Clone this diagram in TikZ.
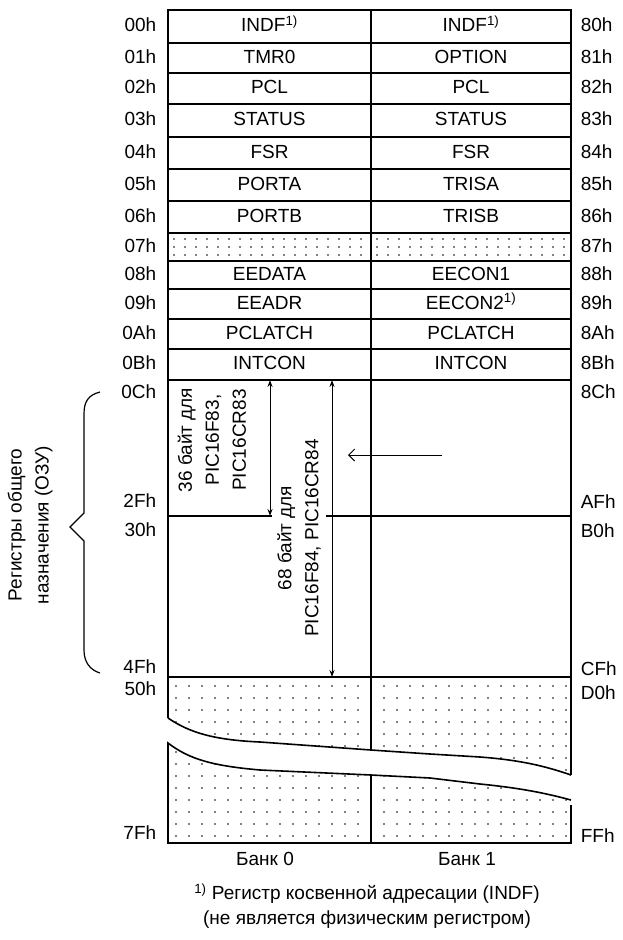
\documentclass[tikz,border=0pt]{standalone}
\usepackage{fontspec}
\setmainfont{Liberation Sans}
\usetikzlibrary{arrows.meta, positioning}

\newcommand{\fnmark}{\textsuperscript{1)}}
\newcommand{\regfont}{\fontsize{19}{27}\selectfont}

\begin{document}
\begin{tikzpicture}[x=1pt, y=-1pt, line width=1.6pt,
  >={Stealth[length=7pt, width=5pt]},
  regname/.style={font=\regfont, inner sep=0pt, text height=14pt, text depth=4pt},
  addr/.style={font=\regfont, inner sep=0pt, text height=14pt, text depth=4pt},
  vlabel/.style={font=\regfont, rotate=90, align=center, inner sep=1pt},
  dot/.style={fill=black}]

\useasboundingbox (0,0) rectangle (623,940);

% =========== Special function registers ===========
\foreach \top/\bot/\la/\ra/\na/\nb [count=\i] in {
  10/43/00h/80h/{INDF\fnmark}/{INDF\fnmark},
  43/73/01h/81h/TMR0/OPTION,
  73/104/02h/82h/PCL/PCL,
  104/137/03h/83h/STATUS/STATUS,
  137/169/04h/84h/FSR/FSR,
  169/201/05h/85h/PORTA/TRISA,
  201/233/06h/86h/PORTB/TRISB,
  233/261/07h/87h/{}/{},
  261/289/08h/88h/EEDATA/EECON1,
  289/319/09h/89h/EEADR/{EECON2\fnmark},
  319/349/0Ah/8Ah/PCLATCH/PCLATCH,
  349/380/0Bh/8Bh/INTCON/INTCON} {
  \draw (168,\top) rectangle (371,\bot);
  \draw (371,\top) rectangle (571,\bot);
  \node[regname] (bankA\i) at (269.5,{(\top+\bot)/2}) {\na};
  \node[regname] (bankB\i) at (471,{(\top+\bot)/2}) {\nb};
  \node[addr, anchor=east] (addrA\i) at (157,{(\top+\bot)/2}) {\la};
  \node[addr, anchor=west] (addrB\i) at (580,{(\top+\bot)/2}) {\ra};
}

% Unimplemented row 07h / 87h
\foreach \x in {174,185,...,366} {
  \foreach \y in {239,247,255} {
    \fill[dot] (\x,\y) circle[radius=0.8pt];
    \fill[dot] ({\x+203},\y) circle[radius=0.8pt];
  }
}

% =========== General purpose registers ===========
\draw (168,380) -- (168,718);
\draw (571,380) -- (571,775);
\draw (371,380) -- (371,750);
\draw (168,516) -- (272,516);
\draw (326,516) -- (571,516);
\draw (168,677) -- (571,677);

% Unimplemented area, upper piece
\draw (168,718) .. controls (190,733) and (215,740) .. (260,742) -- (371,750)
  -- (430,754) -- (480,757) .. controls (520,760) and (545,766) .. (571,775);
\begin{scope}
  \clip (168,677) -- (571,677) -- (571,775) .. controls (545,766) and (520,760) .. (480,757)
    -- (430,754) -- (371,750) -- (260,742) .. controls (215,740) and (190,733) .. (168,718) -- cycle;
  \foreach \x in {176,189,...,570} {
    \foreach \y in {686,698,...,776} {
      \fill[dot] (\x,\y) circle[radius=0.8pt];
    }
  }
\end{scope}

% Unimplemented area, lower piece
\draw (571,805) -- (571,843) -- (168,843) -- (168,743)
  .. controls (190,760) and (215,766) .. (260,770) -- (371,775)
  -- (430,778) -- (480,784) .. controls (520,788) and (545,793) .. (571,800);
\draw (371,775) -- (371,843);
\begin{scope}
  \clip (168,843) -- (168,743) .. controls (190,760) and (215,766) .. (260,770) -- (371,775)
    -- (430,778) -- (480,784) .. controls (520,788) and (545,793) .. (571,800) -- (571,843) -- cycle;
  \foreach \x in {176,189,...,570} {
    \foreach \y in {752,764,...,840} {
      \fill[dot] (\x,\y) circle[radius=0.8pt];
    }
  }
\end{scope}

% Addresses of the general purpose area
\node[addr, anchor=east] (addr0C) at (157,393) {0Ch};
\node[addr, anchor=east] (addr2F) at (157,502) {2Fh};
\node[addr, anchor=east] (addr30) at (157,531) {30h};
\node[addr, anchor=east] (addr4F) at (157,668) {4Fh};
\node[addr, anchor=east] (addr50) at (157,690) {50h};
\node[addr, anchor=east] (addr7F) at (157,834) {7Fh};
\node[addr, anchor=west] (addr8C) at (580,393) {8Ch};
\node[addr, anchor=west] (addrAF) at (580,503) {AFh};
\node[addr, anchor=west] (addrB0) at (580,532) {B0h};
\node[addr, anchor=west] (addrCF) at (580,670) {CFh};
\node[addr, anchor=west] (addrD0) at (580,694) {D0h};
\node[addr, anchor=west] (addrFF) at (580,837) {FFh};

% Size arrows
\coordinate (top36) at (270,380);
\coordinate (bot36) at (270,516);
\coordinate (top68) at (332,380);
\coordinate (bot68) at (332,677);
\draw[<->, line width=1pt] (top36) -- (bot36);
\draw[<->, line width=1pt] (top68) -- (bot68);
\node[vlabel] (txt36) at (212,440) {36 байт для\\PIC16F83,\\PIC16CR83};
\node[vlabel] (txt68) at (299,538) {68 байт для\\PIC16F84, PIC16CR84};

% Mapped to bank 0
\coordinate (mapS) at (442,455);
\coordinate (mapE) at (348,455);
\draw[-{Straight Barb[length=6pt, width=12pt]}, line width=1pt] (mapS) -- (mapE);

% Brace and its label
\draw[line width=1.2pt] (100,392) .. controls (88,395) and (84,402) .. (84,414)
  -- (84,513) -- (70,527) -- (84,541) -- (84,650) .. controls (84,662) and (90,670) .. (100,673);
\node[vlabel] (ozu) at (30,525) {Регистры общего\\назначения (ОЗУ)};

% Bank names
\node[regname] (bank0) at (265,860) {Банк 0};
\node[regname] (bank1) at (467,860) {Банк 1};

% Footnote
\node[font=\fontsize{19}{25}\selectfont, align=center, inner sep=0pt] (note) at (367,906)
  {\fnmark\ Регистр косвенной адресации (INDF)\\(не является физическим регистром)};

\end{tikzpicture}
\end{document}
